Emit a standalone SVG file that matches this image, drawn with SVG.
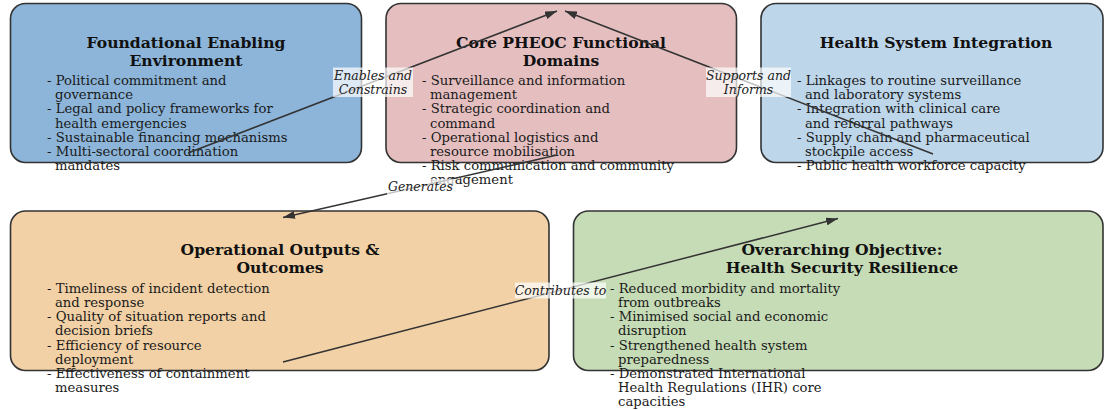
<svg xmlns="http://www.w3.org/2000/svg" width="1104" height="410" viewBox="0 0 1104 410">
  <style>
    .box { stroke: #333333; stroke-width: 1.6; }
    .title { font-family: "DejaVu Serif", "Liberation Serif", serif; font-size: 15.6px; font-weight: bold; fill: #111111; text-anchor: middle; }
    .body { font-family: "DejaVu Serif", "Liberation Serif", serif; font-size: 13.2px; fill: #1a1a1a; }
    .edge { stroke: #333333; stroke-width: 1.5; fill: none; marker-end: url(#head); }
    .lbl-bg { fill: #ffffff; fill-opacity: 0.7; }
    .lbl { font-family: "DejaVu Serif", "Liberation Serif", serif; font-size: 12.5px; font-style: italic; fill: #222222; text-anchor: middle; }
  </style>
  <defs>
    <marker id="head" viewBox="0 0 12 8" refX="12" refY="4" markerWidth="12" markerHeight="8" markerUnits="userSpaceOnUse" orient="auto">
      <path d="M0,0 L12,4 L0,8 Z" fill="#333333"/>
    </marker>
  </defs>

  <rect width="1104" height="410" fill="#ffffff"/>

  <g id="foundational">
    <rect class="box" x="10.5" y="3.5" width="351" height="159" rx="15" fill="#8cb5d9"/>
    <text class="title" x="186" y="48">Foundational Enabling</text>
    <text class="title" x="186" y="66">Environment</text>
    <text class="body" x="47" y="85">- Political commitment and</text>
    <text class="body" x="55" y="99.2">governance</text>
    <text class="body" x="47" y="113.4">- Legal and policy frameworks for</text>
    <text class="body" x="55" y="127.6">health emergencies</text>
    <text class="body" x="47" y="141.8">- Sustainable financing mechanisms</text>
    <text class="body" x="47" y="156">- Multi-sectoral coordination</text>
    <text class="body" x="55" y="170.2">mandates</text>
  </g>

  <g id="core-pheoc">
    <rect class="box" x="386" y="3.5" width="350.5" height="159" rx="15" fill="#e5bfc0"/>
    <text class="title" x="561" y="48">Core PHEOC Functional</text>
    <text class="title" x="561" y="66">Domains</text>
    <text class="body" x="422" y="85">- Surveillance and information</text>
    <text class="body" x="430" y="99.2">management</text>
    <text class="body" x="422" y="113.4">- Strategic coordination and</text>
    <text class="body" x="430" y="127.6">command</text>
    <text class="body" x="422" y="141.8">- Operational logistics and</text>
    <text class="body" x="430" y="156">resource mobilisation</text>
    <text class="body" x="422" y="170.2">- Risk communication and community</text>
    <text class="body" x="430" y="184.4">engagement</text>
  </g>

  <g id="health-system">
    <rect class="box" x="761" y="3.5" width="342" height="159" rx="15" fill="#bdd6ea"/>
    <text class="title" x="936" y="48">Health System Integration</text>
    <text class="body" x="797" y="85">- Linkages to routine surveillance</text>
    <text class="body" x="805" y="99.2">and laboratory systems</text>
    <text class="body" x="797" y="113.4">- Integration with clinical care</text>
    <text class="body" x="805" y="127.6">and referral pathways</text>
    <text class="body" x="797" y="141.8">- Supply chain and pharmaceutical</text>
    <text class="body" x="805" y="156">stockpile access</text>
    <text class="body" x="797" y="170.2">- Public health workforce capacity</text>
  </g>

  <g id="outputs">
    <rect class="box" x="10.5" y="211" width="538.5" height="159.5" rx="15" fill="#f2d1a6"/>
    <text class="title" x="280" y="255">Operational Outputs &amp;</text>
    <text class="title" x="280" y="273">Outcomes</text>
    <text class="body" x="47" y="292.8">- Timeliness of incident detection</text>
    <text class="body" x="55" y="307">and response</text>
    <text class="body" x="47" y="321.2">- Quality of situation reports and</text>
    <text class="body" x="55" y="335.4">decision briefs</text>
    <text class="body" x="47" y="349.6">- Efficiency of resource</text>
    <text class="body" x="55" y="363.8">deployment</text>
    <text class="body" x="47" y="378">- Effectiveness of containment</text>
    <text class="body" x="55" y="392.2">measures</text>
  </g>

  <g id="objective">
    <rect class="box" x="573.5" y="211" width="529.5" height="159.5" rx="15" fill="#c6dcb6"/>
    <text class="title" x="842" y="255">Overarching Objective:</text>
    <text class="title" x="842" y="273">Health Security Resilience</text>
    <text class="body" x="610" y="292.8">- Reduced morbidity and mortality</text>
    <text class="body" x="618" y="307">from outbreaks</text>
    <text class="body" x="610" y="321.2">- Minimised social and economic</text>
    <text class="body" x="618" y="335.4">disruption</text>
    <text class="body" x="610" y="349.6">- Strengthened health system</text>
    <text class="body" x="618" y="363.8">preparedness</text>
    <text class="body" x="610" y="378">- Demonstrated International</text>
    <text class="body" x="618" y="392.2">Health Regulations (IHR) core</text>
    <text class="body" x="618" y="406.4">capacities</text>
  </g>

  <g id="connectors">
    <line class="edge" x1="188" y1="153" x2="557" y2="11"/>
    <line class="edge" x1="933" y1="154" x2="565" y2="11"/>
    <line class="edge" x1="557" y1="155" x2="283" y2="217.5"/>
    <line class="edge" x1="283" y1="362" x2="838" y2="218.5"/>

    <rect class="lbl-bg" x="333" y="67.5" width="80" height="29.5"/>
    <text class="lbl" x="373" y="79.5">Enables and</text>
    <text class="lbl" x="373" y="93.5">Constrains</text>

    <rect class="lbl-bg" x="706" y="67.5" width="85" height="29.5"/>
    <text class="lbl" x="748.5" y="79.5">Supports and</text>
    <text class="lbl" x="748.5" y="93.5">Informs</text>

    <rect class="lbl-bg" x="387" y="179" width="67" height="16"/>
    <text class="lbl" x="420.5" y="191">Generates</text>

    <rect class="lbl-bg" x="515" y="282.5" width="91" height="16"/>
    <text class="lbl" x="560.5" y="294.5">Contributes to</text>
  </g>
</svg>
